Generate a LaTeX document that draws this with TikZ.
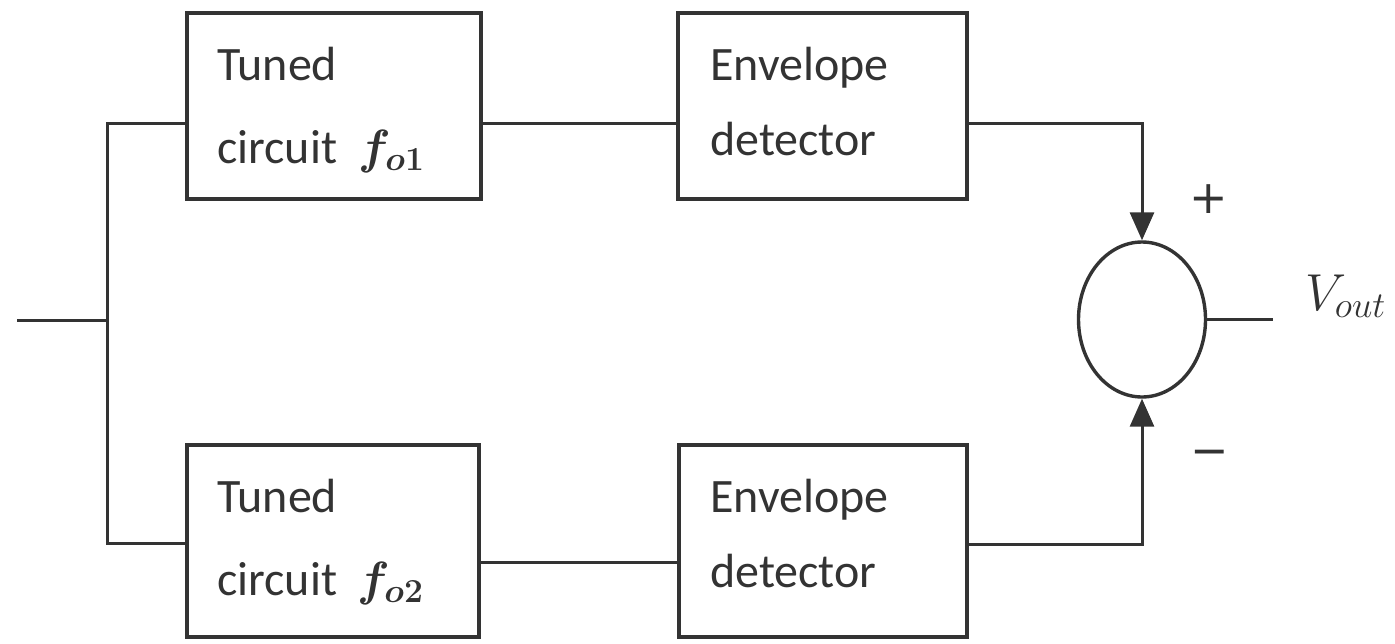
\RequirePackage{fix-cm}
\documentclass[tikz,border=0pt]{standalone}
\usepackage{fontspec}
\newfontfamily\calib{Carlito}
\newfontfamily\signs{DejaVu Sans}
\usetikzlibrary{shapes.geometric,arrows.meta}
\definecolor{ink}{HTML}{333333}
\tikzset{
  blockbox/.style={draw=ink, line width=3.6pt, rectangle, inner sep=0pt},
  wire/.style={draw=ink, line width=3pt},
  label/.style={inner sep=0pt, anchor=base west, text=ink, font=\calib\fontsize{48}{58}\selectfont},
  mathlabel/.style={inner sep=0pt, anchor=base west, text=ink, font=\boldmath\fontsize{48}{58}\selectfont},
  sign/.style={text=ink, inner sep=0pt, font=\signs\fontsize{46}{54}\selectfont},
  tip/.style={-{Triangle[length=28pt,width=24pt]}}
}
\begin{document}
\begin{tikzpicture}[x=1pt,y=-1pt]
\useasboundingbox (0,0) rectangle (1395,643);

% blocks
\node[blockbox, minimum width=294pt, minimum height=186pt] (tc1) at (334,106) {};
\node[blockbox, minimum width=289pt, minimum height=186pt] (ed1) at (822.5,106) {};
\node[blockbox, minimum width=292pt, minimum height=192pt] (tc2) at (333,541) {};
\node[blockbox, minimum width=288pt, minimum height=192pt] (ed2) at (823,541) {};
\node[draw=ink, line width=3.4pt, ellipse, inner sep=0pt,
      minimum width=127pt, minimum height=155pt] (sum) at (1142,319.5) {};

% block texts
\node[label] (tc1a) at (217,80) {Tuned};
\node[label] (tc1b) at (217,163) {circuit};
\node[mathlabel] (tc1f) at (358,163) {$f_{o1}$};
\node[label] (ed1a) at (710,80) {Envelope};
\node[label] (ed1b) at (710,155) {detector};
\node[label] (tc2a) at (217,512) {Tuned};
\node[label] (tc2b) at (217,595) {circuit};
\node[mathlabel] (tc2f) at (357,595) {$f_{o2}$};
\node[label] (ed2a) at (710,512) {Envelope};
\node[label] (ed2b) at (710,587) {detector};

% signs and output label
\node[sign] (plus) at (1209,199) {+};
\node[sign] (minus) at (1210,458) {−};
\node[mathlabel, font=\fontsize{52}{62}\selectfont] (vout) at (1305,310) {$V_{out}$};

% connectors
\coordinate (in) at (17,320);
\coordinate (split) at (107,320);
\coordinate (out) at (1273,319.5);
\draw[wire] (in) -- (split);
\draw[wire] (tc1.west |- 0,123) -| (split) |- (tc2.west |- 0,543);
\draw[wire] (tc1.east |- 0,123) -- (ed1.west |- 0,123);
\draw[wire] (tc2.east |- 0,562) -- (ed2.west |- 0,562);
\draw[wire, tip] (ed1.east |- 0,123) -| (sum.north);
\draw[wire, tip] (ed2.east |- 0,544) -| (sum.south);
\draw[wire] (sum.east) -- (out);
\end{tikzpicture}
\end{document}
